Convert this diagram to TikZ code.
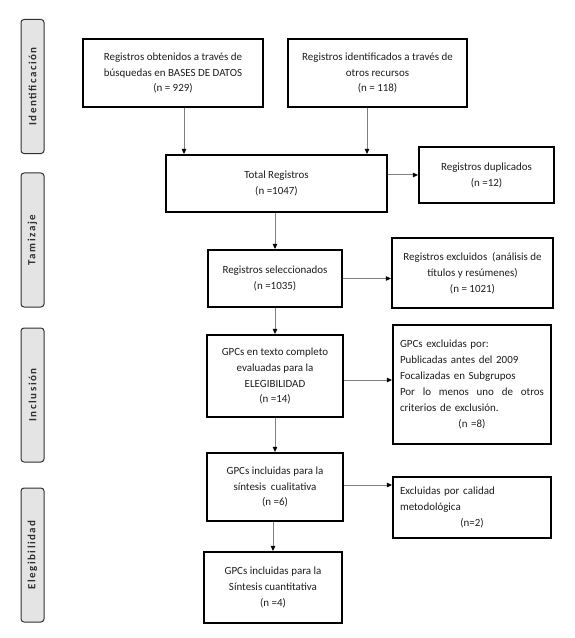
\documentclass[tikz,border=0pt]{standalone}
\usepackage{fontspec}
\setmainfont{Carlito}
\usetikzlibrary{arrows.meta}
\definecolor{txt}{HTML}{1E1E1E}
\definecolor{sidefill}{HTML}{E4E4E4}
\definecolor{sidetxt}{HTML}{303030}
\definecolor{arrline}{HTML}{808080}
\begin{document}
\begin{tikzpicture}[x=1bp,y=-1bp,
  box/.style={draw=black, line width=2.2bp, fill=white, align=center, inner sep=3bp,
    text=txt, font=\fontsize{11}{16}\selectfont},
  lbox/.style={box, align=left},
  side/.style={draw=sidetxt, line width=1bp, fill=sidefill, rounded corners=3bp,
    minimum width=23bp, minimum height=134bp, inner sep=0pt},
  sidelabel/.style={rotate=90, text=sidetxt, font=\fontsize{11}{13}\selectfont\bfseries\addfontfeatures{LetterSpace=14}},
  arr/.style={draw=arrline, line width=1bp, -{Triangle[length=5bp,width=4.5bp,color=black]}}
]
\useasboundingbox (0,0) rectangle (575,638);

% side labels
\node[side] (s1) at (32.5,86.5) {};
\node[sidelabel] (s1t) at (s1.center) {Identificación};
\node[side] (s2) at (32.5,240) {};
\node[sidelabel] (s2t) at (s2.center) {Tamizaje};
\node[side] (s3) at (32.5,395) {};
\node[sidelabel] (s3t) at (s3.center) {Inclusión};
\node[side] (s4) at (32.5,555) {};
\node[sidelabel] (s4t) at (s4.center) {Elegibilidad};

% boxes
\node[box, minimum width=180bp, minimum height=68bp] (b1) at (173,73)
  {Registros obtenidos a través de\\búsquedas en BASES DE DATOS\\(n = 929)};
\node[box, minimum width=179bp, minimum height=68bp] (b2) at (377.5,73)
  {Registros identificados a través de\\otros recursos\\(n = 118)};
\node[box, minimum width=221bp, minimum height=57bp] (total) at (276.5,183.5)
  {Total Registros\\(n =1047)};
\node[box, minimum width=135bp, minimum height=56bp] (dup) at (486.5,175)
  {Registros duplicados\\(n =12)};
\node[box, minimum width=134bp, minimum height=57bp] (sel) at (275,278.5)
  {Registros seleccionados\\(n =1035)};
\node[box, minimum width=161bp, minimum height=70bp] (exc) at (472.5,273)
  {Registros excluidos~~(análisis de\\títulos y resúmenes)\\(n = 1021)};
\node[box, minimum width=136bp, minimum height=82bp] (full) at (275,376)
  {GPCs en texto completo\\evaluadas para la\\ELEGIBILIDAD\\(n =14)};
\node[lbox, text width=144bp, inner sep=7bp, minimum height=119bp] (excl) at (472,384.5)
  {GPCs excluidas por:\\Publicadas antes del 2009\\Focalizadas en Subgrupos\\\makebox[144bp][l]{Por\hfill lo\hfill menos\hfill uno\hfill de\hfill otros}\\criterios de exclusión.\\\makebox[144bp][c]{(n =8)}};
\node[lbox, text width=144bp, inner sep=7bp, minimum height=61bp] (cal) at (472,507.5)
  {Excluidas por calidad\\metodológica\\\makebox[144bp][c]{(n=2)}};
\node[box, minimum width=136bp, minimum height=68bp] (cual) at (275,487)
  {GPCs incluidas para la\\síntesis~~cualitativa\\(n =6)};
\node[box, minimum width=138bp, minimum height=71bp] (cuant) at (273,587.5)
  {GPCs incluidas para la\\Síntesis cuantitativa\\(n =4)};

% connectors
\draw[arr] ([xshift=11bp]b1.south) -- ([xshift=11bp]b1.south |- total.north);
\draw[arr] ([xshift=-10.5bp]b2.south) -- ([xshift=-10.5bp]b2.south |- total.north);
\draw[arr] (total.east |- dup.west) -- (dup.west);
\draw[arr] (sel.north |- total.south) -- (sel.north);
\draw[arr] (sel.east) -- (sel.east -| exc.west);
\draw[arr] (sel.south) -- (full.north);
\draw[arr] ([yshift=-4bp]full.east) -- ([yshift=-4bp]full.east -| excl.west);
\draw[arr] (full.south) -- (cual.north);
\draw[arr] ([yshift=2bp]cual.east) -- ([yshift=2bp]cual.east -| cal.west);
\draw[arr] (cual.south -| cuant.north) -- (cuant.north);
\end{tikzpicture}
\end{document}
